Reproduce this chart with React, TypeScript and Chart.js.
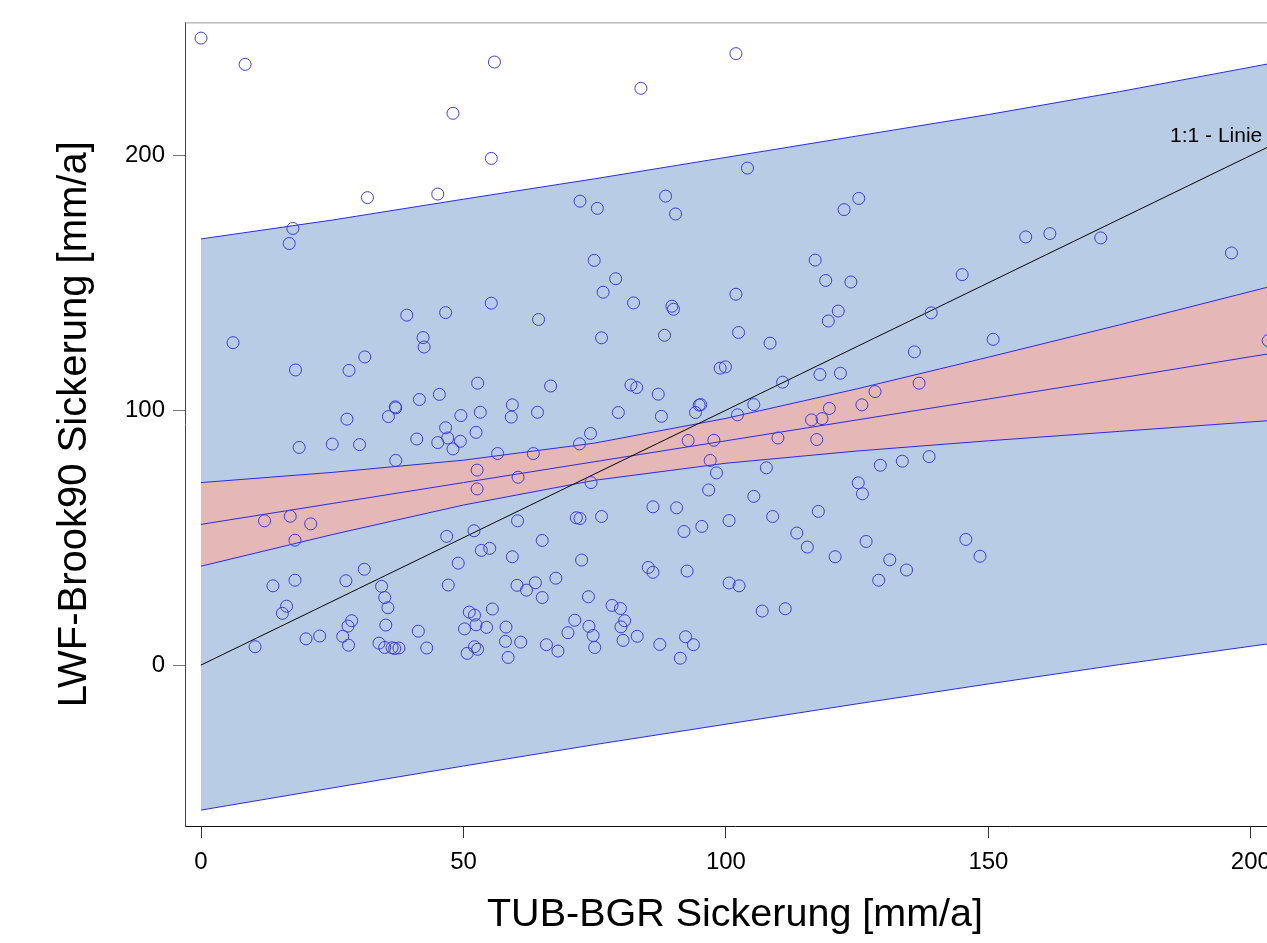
import React, { useEffect, useRef } from 'react';
import { Chart, registerables } from 'chart.js';

Chart.register(...registerables);

// ---- Scatter data: TUB-BGR (x) vs LWF-Brook90 (y) seepage [mm/a]
const tubBgr = [
  0.0, 8.4, 55.9, 101.9, 83.8, 48.0, 55.3, 31.7, 45.1, 104.1,
  72.2, 75.5, 88.5, 90.4, 125.3, 122.5, 17.5, 16.8, 145.0, 157.1,
  161.7, 171.4, 196.3, 74.9, 79.0, 76.6, 101.9, 117.0, 119.0, 123.8,
  6.1, 18.0, 28.2, 31.2, 39.2, 46.6, 55.3, 64.3, 42.3, 42.5,
  52.7, 45.4, 41.6, 37.0, 37.1, 35.7, 27.8, 49.5, 53.2, 59.3,
  59.1, 64.1, 46.6, 41.1, 45.1, 47.0, 49.4, 48.0, 52.4, 18.7,
  25.0, 30.2, 37.1, 56.5, 63.3, 52.6, 60.4, 52.6, 12.1, 17.0,
  20.9, 17.9, 60.3, 46.8, 52.0, 53.4, 55.0, 59.3, 65.0, 49.0,
  82.4, 89.7, 90.0, 121.4, 119.5, 76.3, 88.3, 102.4, 108.4, 98.9,
  99.9, 117.9, 121.8, 66.6, 81.9, 83.0, 87.1, 110.8, 79.5, 87.7,
  94.9, 95.2, 94.2, 105.3, 102.2, 128.4, 125.9, 119.7, 116.3, 118.3,
  74.2, 72.1, 92.8, 97.7, 109.9, 117.3, 97.0, 98.2, 107.7, 74.3,
  96.7, 105.3, 129.4, 133.6, 125.2, 126.0, 86.1, 90.6, 76.3, 71.5,
  72.2, 100.6, 108.9, 117.6, 92.0, 95.4, 113.5, 115.5, 126.7, 120.8,
  131.2, 72.5, 139.1, 135.9, 150.9, 136.8, 203.3, 138.7, 145.7, 148.4,
  13.7, 17.9, 27.6, 31.1, 16.3, 15.5, 10.3, 20.0, 22.6, 27.0,
  28.1, 28.7, 28.0, 34.4, 35.0, 35.6, 35.2, 33.9, 35.0, 36.4,
  36.9, 37.7, 41.4, 43.0, 47.1, 60.2, 62.0, 63.7, 65.0, 51.1,
  52.1, 55.5, 50.2, 52.4, 54.4, 58.1, 58.0, 60.9, 52.1, 52.7,
  50.7, 58.5, 65.8, 67.6, 73.8, 85.2, 86.1, 92.6, 100.6, 102.5,
  129.1, 134.4, 106.9, 111.3, 78.3, 79.9, 71.2, 73.9, 74.7, 69.9,
  80.7, 80.0, 80.4, 83.1, 75.0, 68.0, 87.4, 92.3, 93.8, 91.3,
];

const lwfBrook90 = [
  246.0, 235.7, 236.6, 239.9, 226.3, 216.5, 198.8, 183.4, 184.8, 195.0,
  182.0, 179.2, 184.0, 177.0, 183.1, 178.7, 171.3, 165.4, 153.2, 168.0,
  169.3, 167.6, 161.7, 158.8, 151.6, 146.3, 145.5, 158.9, 150.9, 150.3,
  126.5, 115.8, 115.6, 120.9, 137.3, 138.3, 142.0, 135.6, 128.5, 124.8,
  110.6, 106.2, 104.2, 101.3, 100.9, 97.5, 96.5, 97.9, 99.2, 102.1,
  97.3, 99.2, 93.1, 88.7, 87.3, 89.1, 87.8, 84.8, 91.3, 85.4,
  86.7, 86.5, 80.3, 83.0, 83.0, 76.5, 73.7, 69.1, 56.6, 58.4,
  55.4, 49.0, 56.6, 50.5, 52.7, 45.0, 45.8, 42.5, 48.9, 40.0,
  142.1, 140.8, 139.6, 138.9, 135.0, 128.4, 129.4, 130.5, 126.3, 116.5,
  117.0, 114.0, 114.5, 109.5, 109.9, 108.9, 106.3, 111.0, 99.1, 97.6,
  102.0, 102.2, 99.1, 102.2, 98.2, 107.3, 102.1, 100.7, 96.2, 96.7,
  90.9, 86.8, 88.1, 88.2, 89.1, 88.5, 80.3, 75.4, 77.4, 71.6,
  68.7, 66.2, 78.4, 80.0, 71.5, 67.2, 62.1, 61.7, 58.3, 57.8,
  57.5, 56.7, 58.3, 60.3, 52.4, 54.4, 51.8, 46.3, 48.5, 42.5,
  41.3, 41.2, 138.2, 122.9, 127.8, 110.6, 127.3, 81.8, 49.3, 42.7,
  31.1, 33.3, 33.1, 37.6, 23.1, 20.3, 7.2, 10.3, 11.4, 11.3,
  7.8, 17.4, 15.3, 30.9, 26.5, 22.5, 15.7, 8.6, 6.9, 6.8,
  6.5, 6.7, 13.3, 6.7, 31.4, 31.3, 29.4, 32.3, 26.5, 20.8,
  19.6, 22.0, 14.2, 15.8, 14.8, 14.9, 9.3, 9.0, 7.2, 6.2,
  4.6, 3.0, 8.0, 34.1, 26.8, 38.3, 36.4, 36.9, 32.2, 31.1,
  33.3, 37.3, 21.2, 22.1, 23.4, 22.2, 17.6, 15.2, 11.6, 12.7,
  17.4, 15.0, 9.7, 11.3, 6.9, 5.5, 8.1, 11.1, 8.0, 2.7,
];

// ---- Regression line with confidence and prediction bands
const bandX = [0, 25, 50, 75, 100, 125, 150, 175, 200, 215];
const fitLine = [55.2, 63.4, 71.6, 79.8, 88.0, 96.2, 104.4, 112.6, 121.0, 125.9];
const confUpper = [71.6, 75.6, 80.4, 87.1, 96.8, 108.4, 120.8, 133.5, 146.6, 154.4];
const confLower = [38.8, 51.2, 62.8, 72.5, 79.2, 84.0, 88.0, 91.7, 95.4, 97.6];
const predUpper = [167.2, 174.6, 182.8, 190.8, 199.2, 207.6, 216.0, 225.0, 234.6, 240.5];
const predLower = [-56.9, -48.2, -39.6, -31.2, -23.2, -15.2, -7.4, 0.2, 7.4, 11.6];

// ---- 1:1 line
const oneToOneX = [0, 215];
const oneToOneY = [0, 215];
const oneToOneLabel = '1:1 - Linie';
const oneToOneLabelPos = [184.6, 205.2];

// ---- Axes
const xTicks = [0, 50, 100, 150, 200];
const yTicks = [0, 100, 200];
const xRange = [-3.05, 206.5];
const yRange = [-63.14, 252.16];
const xTitle = 'TUB-BGR Sickerung [mm/a]';
const yTitle = 'LWF-Brook90 Sickerung [mm/a]';

const FONT = "'Liberation Sans', Arial, Helvetica, sans-serif";
const CIRCLE = '#3c3ce4';
const LINE = '#2a2ae8';
const BLUE_FILL = '#b8cde5';
const RED_FILL = '#e6b7b7';

const toXY = (xs: number[], ys: number[]) => xs.map((x, i) => ({ x, y: ys[i] }));

const framePlugin = {
  id: 'frameAndLabel',
  afterDatasetsDraw(chart: any) {
    const { ctx, chartArea, scales } = chart;
    ctx.save();
    ctx.strokeStyle = '#9a9a9a';
    ctx.lineWidth = 1;
    ctx.beginPath();
    ctx.moveTo(chartArea.left, chartArea.top + 0.5);
    ctx.lineTo(chartArea.right, chartArea.top + 0.5);
    ctx.stroke();
    ctx.fillStyle = '#000';
    ctx.font = `21px ${FONT}`;
    ctx.textAlign = 'left';
    ctx.textBaseline = 'alphabetic';
    ctx.fillText(
      oneToOneLabel,
      scales.x.getPixelForValue(oneToOneLabelPos[0]),
      scales.y.getPixelForValue(oneToOneLabelPos[1])
    );
    ctx.restore();
  },
};

export default function App() {
  const ref = useRef<HTMLCanvasElement>(null);

  useEffect(() => {
    const canvas = ref.current;
    if (!canvas) return;
    const lineDs = (label: string, ys: number[], extra: any = {}) => ({
      label,
      data: toXY(bandX, ys),
      borderColor: LINE,
      borderWidth: 1,
      pointRadius: 0,
      pointHoverRadius: 0,
      tension: 0,
      fill: false,
      ...extra,
    });
    const chart = new Chart(canvas, {
      type: 'line',
      data: {
        datasets: [
          {
            label: 'Messpunkte',
            data: toXY(tubBgr, lwfBrook90),
            showLine: false,
            pointRadius: 6,
            pointHoverRadius: 6,
            pointBorderWidth: 1,
            pointBorderColor: CIRCLE,
            pointBackgroundColor: 'rgba(0,0,0,0)',
            borderColor: CIRCLE,
            backgroundColor: 'rgba(0,0,0,0)',
            fill: false,
          },
          {
            label: '1:1',
            data: toXY(oneToOneX, oneToOneY),
            borderColor: '#000',
            borderWidth: 1,
            pointRadius: 0,
            pointHoverRadius: 0,
            fill: false,
          },
          lineDs('Regression', fitLine),
          lineDs('KI oben', confUpper),
          lineDs('KI unten', confLower, { fill: 3, backgroundColor: RED_FILL }),
          lineDs('PI oben', predUpper),
          lineDs('PI unten', predLower, { fill: 5, backgroundColor: BLUE_FILL }),
        ],
      } as any,
      options: {
        animation: false,
        responsive: false,
        devicePixelRatio: 1,
        events: [],
        layout: { padding: { top: 22, right: 15, bottom: 0, left: 0 } },
        plugins: {
          legend: { display: false },
          tooltip: { enabled: false },
          filler: { propagate: false },
        },
        scales: {
          x: {
            type: 'linear',
            min: xRange[0],
            max: xRange[1],
            afterFit: (s: any) => {
              s.height = 117;
            },
            afterBuildTicks: (s: any) => {
              s.ticks = xTicks.map((v) => ({ value: v }));
            },
            grid: { drawOnChartArea: false, drawTicks: true, tickLength: 12, color: '#333', lineWidth: 1 },
            border: { display: true, color: '#111', width: 1 },
            ticks: {
              color: '#000',
              font: { family: FONT, size: 24 },
              padding: 10,
              maxRotation: 0,
              autoSkip: false,
              callback: (v: any) => String(v),
            },
            title: {
              display: true,
              text: xTitle,
              color: '#000',
              font: { family: FONT, size: 39.5 },
              padding: { top: 0, bottom: 4 },
            },
          },
          y: {
            type: 'linear',
            min: yRange[0],
            max: yRange[1],
            afterFit: (s: any) => {
              s.width = 185;
            },
            afterBuildTicks: (s: any) => {
              s.ticks = yTicks.map((v) => ({ value: v }));
            },
            grid: { drawOnChartArea: false, drawTicks: true, tickLength: 12, color: '#777', lineWidth: 1 },
            border: { display: true, color: '#444', width: 1 },
            ticks: {
              color: '#000',
              font: { family: FONT, size: 24 },
              padding: 8,
              autoSkip: false,
              callback: (v: any) => String(v),
            },
            title: {
              display: true,
              text: yTitle,
              color: '#000',
              font: { family: FONT, size: 40 },
              padding: { top: 51, bottom: 0 },
            },
          },
        },
      } as any,
      plugins: [framePlugin],
    });
    return () => chart.destroy();
  }, []);

  return (
    <div
      style={{
        position: 'fixed',
        left: 0,
        top: 0,
        width: 1267,
        height: 943,
        overflow: 'hidden',
        background: '#fff',
      }}
    >
      <canvas ref={ref} width={1300} height={943} style={{ display: 'block', width: 1300, height: 943 }} />
    </div>
  );
}
